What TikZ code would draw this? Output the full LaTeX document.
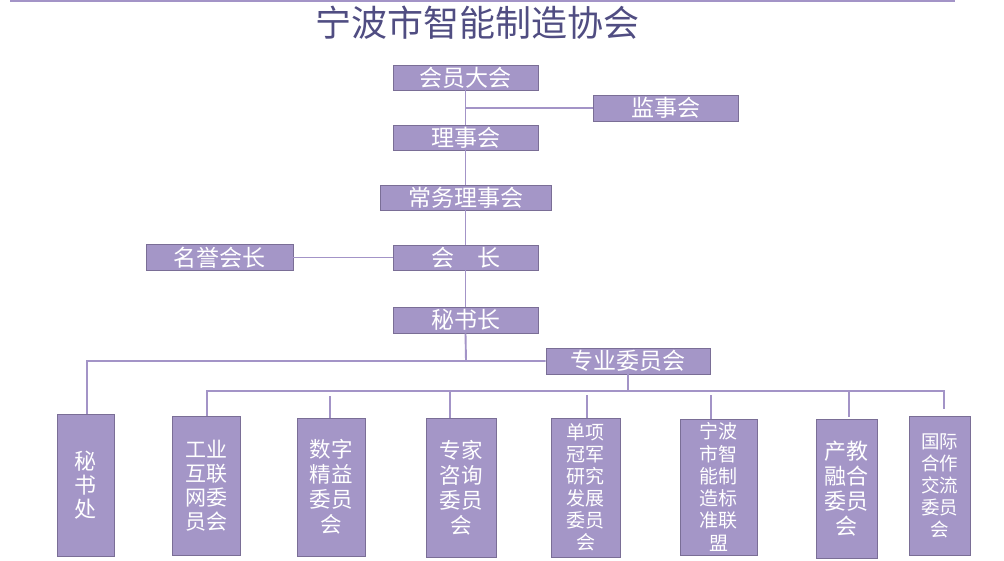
\documentclass[tikz,border=0pt]{standalone}
\usepackage{fontspec}
\setmainfont{Noto Sans CJK SC}
\definecolor{boxfill}{RGB}{164,150,199}
\definecolor{boxline}{RGB}{122,110,150}
\definecolor{linkline}{RGB}{163,148,199}
\definecolor{titleblue}{RGB}{80,77,130}
\begin{document}
\begin{tikzpicture}[x=1pt, y=-1pt,
    box/.style={rectangle, draw=boxline, fill=boxfill, line width=0.9pt, text=white, inner sep=0pt},
    hbox/.style={box, minimum width=145pt, minimum height=25pt, font=\fontsize{23}{24}\selectfont},
    vbox/.style={box, align=center},
    link/.style={draw=linkline, line width=1.9pt}]
    \useasboundingbox (0,0) rectangle (1004,561);
    \draw[link] (10,1) -- (955,1);
    \node[text=titleblue, font=\fontsize{36}{38}\selectfont] (title) at (477.5,23) {宁波市智能制造协会};

    % upper chain
    \node[hbox] (hy) at (465.5,77.5) {会员大会};
    \node[hbox, minimum height=26pt] (jsh) at (665.5,108) {监事会};
    \node[hbox] (lsh) at (465.5,137.5) {理事会};
    \node[hbox, minimum width=171pt] (cw) at (465.5,197.5) {常务理事会};
    \node[hbox, minimum width=147pt, minimum height=26pt] (myhz) at (219.5,257.5) {名誉会长};
    \node[hbox] (hz) at (465.5,257.5) {会　长};
    \node[hbox, minimum height=26pt] (msz) at (465.5,320) {秘书长};
    \node[hbox, minimum width=164pt, minimum height=26pt] (zy) at (628,361) {专业委员会};

    % lower boxes
    \node[vbox, minimum width=57pt, minimum height=142pt, font=\fontsize{22}{24}\selectfont] (msc) at (85.5,485) {秘\\书\\处};
    \node[vbox, minimum width=68pt, minimum height=139pt, font=\fontsize{21}{24}\selectfont] (gy) at (206,485.5) {工业\\互联\\网委\\员会};
    \node[vbox, minimum width=68pt, minimum height=138pt, font=\fontsize{21.5}{25}\selectfont] (sz) at (331,487) {数字\\精益\\委员\\会};
    \node[vbox, minimum width=70pt, minimum height=139pt, font=\fontsize{21.5}{25}\selectfont] (zj) at (461,487.5) {专家\\咨询\\委员\\会};
    \node[vbox, minimum width=69pt, minimum height=139pt, font=\fontsize{19}{22}\selectfont] (dx) at (585.5,487.5) {单项\\冠军\\研究\\发展\\委员\\会};
    \node[vbox, minimum width=77pt, minimum height=136pt, font=\fontsize{19}{22.3}\selectfont] (nb) at (718.5,487) {宁波\\市智\\能制\\造标\\准联\\盟};
    \node[vbox, minimum width=61pt, minimum height=139pt, font=\fontsize{22}{25}\selectfont] (cj) at (846.5,488.5) {产教\\融合\\委员\\会};
    \node[vbox, minimum width=61pt, minimum height=139pt, font=\fontsize{18.5}{22}\selectfont] (gj) at (939.5,485.5) {国际\\合作\\交流\\委员\\会};

    % connectors
    \coordinate (hub) at (466,361);
    \coordinate (bus) at (628,391);
    \draw[link] (hy) -- (lsh) (lsh) -- (cw) (cw) -- (hz) (hz) -- (msz);
    \draw[link] (jsh.west) -- (jsh.west -| hy.south);
    \draw[link] (myhz) -- (hz);
    \draw[link] (msz.south) -- (hub) -- (zy.west);
    \draw[link] (hub) -| ([xshift=1.5pt]msc.north);
    \draw[link] (zy.south) -- (bus);
    \draw[link] ([xshift=1pt]gy.north) |- (bus);
    \draw[link] (bus) -| ([xshift=4.5pt, yshift=7pt]gj.north);
    \draw[link] ([xshift=-11pt]zj.north) -- ([xshift=-11pt]zj.north |- bus);
    \draw[link] ([xshift=2.5pt, yshift=2pt]cj.north) -- ([xshift=2.5pt]cj.north |- bus);
    \draw[link, shorten >=5pt] ([xshift=-1pt]sz.north) -- ([xshift=-1pt]sz.north |- bus);
    \draw[link, shorten >=4pt] ([xshift=1.5pt]dx.north) -- ([xshift=1.5pt]dx.north |- bus);
    \draw[link, shorten >=4pt] ([xshift=-7.5pt]nb.north) -- ([xshift=-7.5pt]nb.north |- bus);
\end{tikzpicture}
\end{document}
